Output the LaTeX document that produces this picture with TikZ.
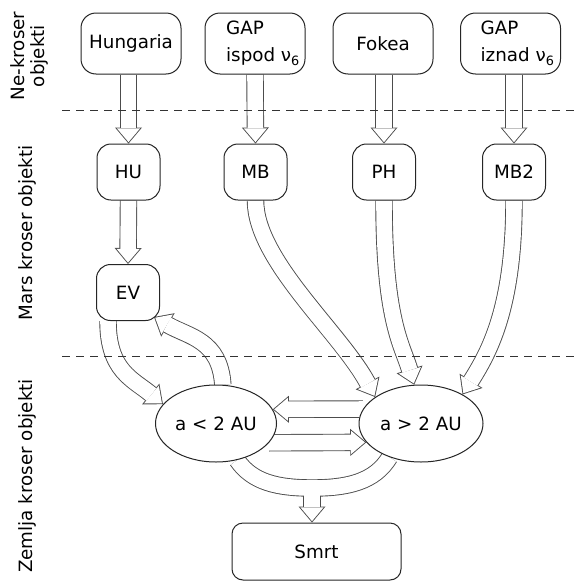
\documentclass[tikz,border=0pt]{standalone}
\usepackage{fontspec}
\setmainfont{DejaVu Sans}
\usetikzlibrary{arrows.meta, positioning, shapes.geometric}

\pgfdeclarelayer{background}
\pgfsetlayers{background,main}

\tikzset{
  rbox/.style={draw=black!85, fill=white, line width=1pt, rounded corners=15pt,
    minimum width=100pt, minimum height=61pt, inner sep=0pt, align=left},
  sbox/.style={draw=black!85, fill=white, line width=1pt, rounded corners=14pt,
    minimum width=63pt, minimum height=56pt, inner sep=0pt},
  zone/.style={ellipse, draw=black!85, fill=white, line width=1pt,
    minimum width=121pt, minimum height=77pt, inner sep=0pt},
  side/.style={rotate=90, align=center},
  sep/.style={draw=black!80, line width=1pt, dash pattern=on 8pt off 6pt},
  flowedge/.style={draw=black!70, line width=17.4pt},
  flowcore/.style={draw=white, line width=15.6pt},
  flowedgetip/.style={flowedge, -{Triangle[length=16pt, width=27pt, line width=0pt]}},
  flowcoretip/.style={flowcore, shorten >=1.4pt,
    -{Triangle[length=13.7pt, width=23.1pt, line width=0pt]}},
  flow/.style={flowcoretip, preaction={flowedgetip, shorten >=0pt}},
}

\begin{document}
\begin{tikzpicture}[x=1pt, y=-1pt, font=\fontsize{18.3}{27}\selectfont]
  \useasboundingbox (0,0) rectangle (578,581);

  % pojasevi
  \node[side, font=\fontsize{18.3}{20}\selectfont] (lne) at (29,56) {Ne-kroser\\objekti};
  \node[side] (lmars) at (27,233) {Mars kroser objekti};
  \node[side] (lzem) at (27,476) {Zemlja kroser objekti};

  % izvori
  \node[rbox] (hun) at (131,43.5) {Hungaria};
  \node[rbox] (gapd) at (255,43.5) {\hspace*{16pt}GAP\\\hspace*{16pt}ispod ν\textsubscript{6}};
  \node[rbox] (fok) at (383,43.5) {Fokea};
  \node[rbox] (gapu) at (510.5,43.5) {\hspace*{14pt}GAP\\\hspace*{14pt}iznad ν\textsubscript{6}};

  % Mars kroseri
  \node[sbox] (hu) at (128.5,172) {HU};
  \node[sbox] (mb) at (255.5,172) {MB};
  \node[sbox] (ph) at (384,172) {PH};
  \node[sbox] (mb2) at (514,172) {MB2};
  \node[sbox] (ev) at (128,292.5) {EV};

  % Zemlja kroseri
  \node[zone] (lo) at (216,423.5) {a < 2 AU};
  \node[zone, minimum width=124pt] (hi) at (421,423.5) {a > 2 AU};
  \node[rbox, rounded corners=11pt, minimum width=169pt, minimum height=57pt] (smrt) at (316.5,551.5) {Smrt};

  \coordinate (join) at (312,488);

  \begin{pgfonlayer}{background}
    \draw[flow] (hu |- hun.south) -- (hu.north);
    \draw[flow] (gapd.south) -- (mb.north);
    \draw[flow] (fok.south -| ph) -- (ph.north);
    \draw[flow] (mb2 |- gapu.south) -- (mb2.north);
    \draw[flow] (hu.south) -- (ev.north);

    \draw[flow] (mb.south) .. controls +(0,60) and +(-35,-65) .. (hi.150);
    \draw[flow] (ph.south) .. controls +(0,120) and +(-12,-40) .. (hi.100);
    \draw[flow] (mb2.south) .. controls +(0,110) and +(25,-40) .. (hi.35);

    \draw[flow] ([xshift=-20pt]ev.south) .. controls +(0,50) and +(-30,-25) .. (lo.160);
    \draw[flow] (lo.80) .. controls +(-3,-45) and +(35,20) .. ([shift={(-6,-4)}]ev.south east);

    \draw[flow] (hi.166) -- (lo.14);
    \draw[flow] (lo.-20) -- (hi.199);

    % spajanje prema smrti
    \draw[flowedge] (lo.-60) .. controls +(15,22) and +(-35,0) .. (join)
      .. controls +(35,0) and +(-15,25) .. (hi.-133);
    \draw[flowedgetip] (join) -- (join |- smrt.north);
    \draw[flowcore] (lo.-60) .. controls +(15,22) and +(-35,0) .. (join)
      .. controls +(35,0) and +(-15,25) .. (hi.-133);
    \draw[flowcoretip] (join) -- (join |- smrt.north);
  \end{pgfonlayer}

  \draw[sep] (62,110) -- (578,110);
  \draw[sep] (62,356) -- (578,356);
\end{tikzpicture}
\end{document}
